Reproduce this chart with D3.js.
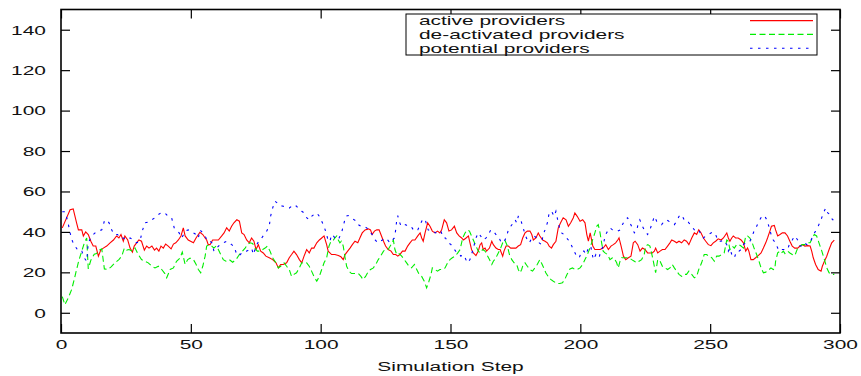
<!DOCTYPE html>
<html>
<head>
<meta charset="utf-8">
<script src="https://cdn.jsdelivr.net/npm/d3@7"></script>
<style>
  html, body { margin: 0; padding: 0; background: #fff; }
  svg { display: block; font-family: "Liberation Sans", Arial, Helvetica, sans-serif; }
</style>
</head>
<body>
<svg id="chart" width="861" height="376"></svg>
<script>
// Tick values
const xTicks = [0, 50, 100, 150, 200, 250, 300];
const yTicks = [0, 20, 40, 60, 80, 100, 120, 140];
const seriesNames = ["active providers", "de-activated providers", "potential providers"];

// [simulation step, number of providers]
const active = [
  [0.5,42],[3.5,51],[4.7,51.4],[6,44.5],[6.7,41],[8,41],[8.6,38],[9.5,40],[10.5,38.7],[11.5,35.4],[12.4,33],[13.4,33],[14.4,28],[15.3,31],[16.3,32],[17.6,33],[18.9,34.6],[20.2,36],[21.4,38],[22.3,37],[23.1,38.7],[24,35.4],[24.6,38],[25.7,36],[26.6,32],[27.5,30],[28.2,33],[29.1,34.6],[30,36],[31,35.4],[32.1,31],[33,33],[33.9,32],[35,33],[36,31],[36.8,32],[37.7,30.5],[38.5,33],[39.4,32],[40.3,34],[41.3,33],[42.4,31.6],[43.3,34],[44.2,34.6],[45.2,36],[46.2,38],[47.1,42],[47.8,38],[49,36],
  [51,34.6],[52,37],[52.9,38.7],[53.5,39.8],[54.6,38.7],[55.5,37],[56.1,36],[56.7,33.7],[57.4,33.7],[58.4,36],[59.3,36],[60.6,36],[61.9,38],[62.8,39.5],[63.8,42],[64.8,40.4],[65.7,42.8],[66.6,44.5],[67.7,46],[68.7,45.3],[69.6,39.5],[70.5,38.7],[71.5,36],[72.5,34.6],[73.4,37],[74.3,35.4],[75.1,31.3],[76,33.7],[76.9,30.5],[77.9,29.6],[78.9,28],[80.2,27.2],[81.5,26.3],[82.8,24.7],[83.7,22.2],[84.6,23.9],[85.6,23.9],[86.9,24.7],[87.9,27.2],[88.8,28.8],[89.7,30.5],[90.7,28.8],[91.8,26.3],[92.7,24.7],[93.6,28],[94.6,31.3],[95.6,29.6],[96.5,32],[97.4,32],[98.5,34.6],[99.5,36],[100.4,37],[101.3,38],
  [102.3,33.7],[102.9,30.5],[104.2,28.8],[105.5,28.8],[106.8,28.3],[107.8,27.7],[108.7,26.3],[109.4,28.8],[110.4,30.5],[111.3,32],[112.2,33.7],[113.2,35.4],[114.3,34.6],[115.1,37],[116,39.5],[117.1,41],[118.4,41.5],[119.2,41],[119.8,38.7],[120.7,40.4],[121.6,41],[122.5,41],[123.2,38.7],[124.2,35.4],[125,33],[126,31.3],[127.1,30.5],[128,28.8],[128.9,28.8],[129.7,28],[130.5,28.8],[131.5,30.5],[132.5,30.5],[133.5,33],[134.4,34.6],[135.3,36],[136.3,36],[137.4,38],[138.3,39.5],[138.9,37],[139.5,35.4],[140.2,39.5],[141.2,44.5],[142.1,42.8],[143,40.4],[144,39.5],[145,40.4],[145.9,39.5],[146.6,41],[147.6,46],[148.5,44.5],[149.4,40.4],[150.4,41],[151.5,42.8],[152.4,39.5],[153.3,38],
  [154.3,37],[155,36],[156,37],[156.9,38],[157.5,34.6],[158.1,31.3],[158.8,29.6],[159.8,28.3],[160.7,30.5],[161.4,33.7],[162,34.6],[162.6,31.3],[163.3,32],[163.9,30.5],[165,32],[165.9,35.4],[166.5,33.7],[167.5,32],[168.4,31.3],[169.1,31.3],[170.1,28],[170.6,30.5],[171.4,33],[172.3,33],[173.2,32],[174.2,32],[175.2,32],[176.1,33],[177,33.7],[177.8,37],[178.7,39.5],[179.6,40.4],[180.6,40.4],[181.3,38.7],[181.9,36],[182.9,37],[183.8,39.5],[184.4,38],[185.5,36],[186.4,35.4],[187.3,34.6],[188,33],[188.9,32],[189.6,33.7],[190.6,35.4],[191.5,42],[192.4,44.5],[193.4,47],[194.5,46],[195.4,42.8],[196.3,44.5],[197.3,47],[197.9,49.4],[198.8,47.7],[199.9,45.3],[200.9,46],[201.8,44.5],[202.5,38.7],[203.1,35.4],[203.8,39.5],[204.8,33],[205.6,31.3],
  [206.3,31.3],[207.6,31.3],[208.8,32],[209.8,33.7],[210.8,31.3],[211.8,33],[212.7,33.7],[213.6,34.6],[214.4,36],[214.9,37],[215.7,33],[216.6,28],[217.5,26.3],[218.5,27.2],[219.5,28],[220.4,34.6],[221.1,35.4],[222.1,33.7],[223,30.5],[223.9,32],[224.9,31.3],[225.9,29.6],[226.8,29.6],[227.7,29.6],[228.5,30.5],[229,32],[229.8,29.6],[230.7,30.5],[231.6,31.3],[232.6,31.3],[233.6,33],[234.5,34.6],[235.2,36],[236.2,35.4],[237.1,34.6],[238,35.4],[239,34.6],[240,36],[240.9,35.4],[241.8,33.7],[242.9,37],[243.9,39.5],[244.8,38.7],[245.6,41],[246.5,39.5],[247.4,37],[248.3,35.4],[249.3,33.7],[250.3,33.2],[251.2,34.6],[252.1,35.4],[253.1,36.6],[254.2,36],[255.1,37],
  [256.4,39.5],[257,37],[257.6,35.4],[258.3,37],[258.9,38],[259.8,37],[260.8,37],[261.9,36],[262.8,34.6],[263.7,30.5],[264.4,32],[264.9,30.5],[265.7,26.3],[266.6,26.3],[267.5,27.2],[268.5,28.3],[269.6,29.6],[270.5,32],[271.4,34.6],[272.1,37],[273,40.4],[273.6,42.8],[274.7,43.2],[275.2,41],[276,38],[276.9,38.7],[277.8,39.5],[278.8,39.5],[279.8,38],[280.7,35.4],[281.6,33],[282.6,32],[283.7,32],[284.6,33],[285.5,33.7],[286.5,33],[287.5,33.2],[288.5,33],[289.1,30.5],[289.7,27.2],[290.6,23.9],[291.6,21.4],[292.7,20.6],[293.2,23],[294,25.5],[294.9,28],[295.8,31.3],[296.8,34.6],[297.8,35.9]
];

const deactivated = [
  [0.5,8],[1.5,4],[2.8,7.4],[4.1,11.5],[5.1,16.5],[6,21.4],[6.9,26],[8,30.5],[9,34.6],[9.9,37],[10.5,21.7],[11.5,26],[12.8,29],[13.7,29.3],[14.6,31],[15.7,31.6],[16.7,21.7],[18,21.4],[19.3,22.7],[20.8,24.7],[22.3,26.3],[23.4,28],[24.4,32],[25.3,31],[26.2,31.3],[27.5,30.5],[28.5,32],[29.8,28.8],[31,26.3],[32.3,25.5],[33.6,24.7],[35,23],[36.2,22.2],[37.5,23],[38.8,21.4],[40,19.4],[40.7,17.3],[42,21.4],[43.3,22.2],[44.5,25.5],[45.8,27],[46.7,30],[47.8,23.9],[48.8,26.3],
  [49.7,27],[51,26.3],[52,24],[52.9,21.4],[53.8,19.8],[54.6,23],[55.5,28],[56.1,33],[57.1,33.7],[58,33],[58.9,32],[59.7,33],[60.6,31.3],[61.5,28.8],[62.5,26.3],[63.5,25.5],[64.8,26.3],[66.1,25],[67.4,26.3],[68.7,28.8],[69.9,30.5],[70.9,32],[71.8,33.7],[72.8,34.6],[73.8,34.3],[74.7,32],[75.6,30.5],[76.6,30.5],[77.7,31.3],[78.6,32],[79.5,33],[80.5,30.5],[81.5,27.2],[82.8,24.7],[83.7,22.2],[84.6,23],[85.9,24.7],[86.9,23],[87.9,21.4],[88.8,18],[89.7,19],[90.7,19.8],[91.8,22.2],[92.7,24.7],[93.6,24.7],[94.6,24.7],[95.6,23],[96.5,20.6],[97.4,18],[98.5,15.6],[99.5,18],[100.4,21.4],[101.3,24.7],
  [102.3,27.2],[103.2,33],[104,35.4],[104.9,36],[105.5,37],[106.2,38],[106.8,36],[107.4,34.6],[108,35.4],[108.7,33],[109.4,27.2],[110,23],[110.9,20.6],[111.9,19.4],[113.2,19.4],[114.5,19.4],[115.5,18],[116.3,16.5],[117.3,18],[118.4,20.6],[119.2,21.4],[120.3,22.2],[121.2,23.9],[122.2,26.3],[123.2,28.3],[124.2,30.5],[125,31.3],[126,31.3],[127.1,33.7],[128,36],[128.6,31.3],[129.3,28.8],[130.2,29.3],[131.2,28],[132.2,26.3],[133.1,24.7],[134,23],[135,22.2],[136.1,23.9],[137,21.4],[137.9,19],[138.9,18],[139.9,15.6],[140.8,12.3],[141.7,15.6],[142.5,19],[143,22.2],[144,21.4],[145,20.6],[145.9,21.4],[146.9,21.4],[147.9,22.2],[148.9,24.7],[149.8,26.3],[150.7,27.2],[151.8,28],[152.8,29.6],[153.7,31.3],
  [154.7,37],[155.6,39.5],[156.5,41],[157.3,40.4],[158.1,38],[159,35.4],[159.8,33],[160.7,30.5],[161.4,29.6],[162.4,31.3],[163.3,30.5],[164.2,28.3],[165,26.3],[165.9,23.9],[166.5,25.5],[167.5,27.2],[168.4,29.6],[169.1,31.3],[170.1,34.6],[170.9,36],[171.9,33],[172.7,28.8],[173.6,26.3],[174.5,24.7],[175.5,23.9],[176.1,21.4],[176.8,19.8],[177.4,21.4],[178,23.9],[178.7,24.7],[179.6,23],[180.6,21.4],[181.6,20.6],[182.5,22.2],[183.4,23.9],[184.4,26.3],[185,24.7],[185.9,22.2],[186.7,19.8],[187.6,18],[188.6,16.5],[189.6,15.6],[190.9,14.5],[192.1,14.5],[193.1,14.8],[194,16.5],[194.9,19],[196,21.7],[197,22.2],[197.9,21.4],[198.8,21.4],[199.9,22.2],[200.9,23.9],[201.8,26.3],[202.7,28.8],[203.7,32],[204.7,36],[205.6,39.5],[206.3,42.8],[206.9,43.6],[207.6,39.5],
  [208.2,34.6],[208.8,30.5],[209.5,29.6],[210.5,28.8],[211.4,26.3],[212.4,27.2],[213.3,26.3],[214,24.7],[214.6,22.2],[215.3,25.5],[215.9,27.2],[216.9,27.2],[217.9,27.2],[218.8,27.2],[219.8,26.3],[220.8,25.5],[221.7,24.7],[222.6,25.5],[223.6,26.3],[224.6,28.8],[225.2,33],[226,33.7],[226.8,33],[227.7,28],[228.5,23],[229,19.8],[229.8,26.3],[230.7,25.5],[231.6,23],[232.6,22.2],[233.6,21.4],[234.5,22.2],[235.4,23.9],[236.2,22.2],[237.1,20.6],[238,19],[239,18],[240,19],[240.9,19],[241.8,20.6],[242.9,19],[243.9,17.3],[244.8,18],[245.6,21.4],[246.7,24.7],[247.7,28.8],[248.6,28.8],[249.5,28],[250.6,27.2],[251.6,25.5],[252.5,28],[253.4,28],[254.4,28.8],[255.4,29.6],
  [256.4,36],[257,35.4],[257.6,31.3],[258.5,33],[259.3,32],[260.2,33.7],[261.1,33.7],[261.9,33],[262.8,32],[263.7,38],[264.4,38],[265.3,37],[266.2,34.6],[266.9,32],[267.9,28.8],[268.8,25.5],[269.6,22.2],[270.5,19.8],[271.4,20.1],[272.4,21],[273.4,22.2],[274.3,21.4],[274.9,21.7],[275.2,25.5],[276,29.6],[276.9,30.5],[277.5,29.6],[278.2,30.5],[278.8,29.3],[279.8,30.5],[280.7,29.6],[281.6,28.8],[282.6,28.3],[283.7,32],[284.6,33],[285.5,33.7],[286.5,33.7],[287.5,34.6],[288.5,34.6],[289.3,37],[290.1,38.7],[291,38],[291.9,34.6],[293,30.5],[294,26.3],[294.9,22.2],[295.8,19.8],[296.8,19],[297.8,19]
];

const potential = [
  [0.5,50],[1.5,50],[2.6,45.3],[3.5,39.5],[4.4,35.4],[5.4,33],[6.7,30.5],[8,30.5],[9,27],[9.9,25.5],[10.5,34.6],[11.8,38],[13.1,39.5],[14.4,40.4],[15.7,41],[16.7,45.3],[17.6,46],[18.5,44.5],[19.5,41],[20.5,38.7],[21.8,38.7],[22.7,37],[24,37],[25.3,36],[26.6,37],[27.9,36],[29.1,34.6],[30.4,35.4],[31.3,40.4],[32.3,44.5],[33.6,44.8],[35,46],[36.2,47],[37.5,48.6],[38.8,49.7],[40,49.4],[41.3,47.7],[42.6,47],[43.6,42],[44.5,41],[45.5,39.5],[46.5,37],[47.8,40.4],[49,41],
  [51,39.5],[52,38.7],[52.9,37],[53.5,41],[54.6,39.5],[55.5,38],[56.4,35.4],[57.4,35.4],[58.1,34.6],[58.9,30.5],[59.9,32],[61.2,33.7],[62.5,34.6],[63.8,35.4],[64.8,34.6],[65.7,33.7],[66.6,33],[67.7,28.8],[68.7,28.3],[69.6,29.6],[70.5,30.5],[71.5,30.5],[72.5,31.3],[73.4,32],[74.1,28.8],[74.7,31.3],[75.4,33.7],[76.4,36],[77.3,37],[78.2,38.7],[79.2,40.4],[80.2,42.8],[80.7,47.7],[81.5,51.8],[82.4,55.2],[83.3,54.3],[84.3,53],[85.6,52.7],[86.9,52.4],[87.9,51.8],[88.8,52.7],[89.7,53.5],[90.7,52.7],[91.8,51],[92.7,50.2],[93.6,49.4],[94.6,47],[95.6,46],[96.5,47.7],[97.4,48.6],[98.5,49.4],[99.5,47.7],[100.4,45.3],[101.3,42.8],
  [102.3,38.7],[102.9,35.4],[103.6,35.4],[104.2,38.7],[104.9,38],[105.5,37],[106.2,36],[107.1,37],[108,39.5],[108.7,42.8],[109.6,47.7],[110.6,48.1],[111.7,47],[112.9,46],[113.9,45.3],[114.5,43.6],[115.5,42.8],[116.8,42.8],[117.7,42],[118.6,41],[119.3,39.5],[120.3,38],[121,36],[122,34.6],[122.9,35.4],[123.8,36],[124.8,37],[125.8,36],[126.7,34.6],[127.6,36],[128.4,37],[128.9,41],[129.3,46],[129.7,48],[130.2,45.3],[131,42.8],[131.8,42.8],[132.7,43.6],[133.8,42.8],[134.8,42.8],[135.7,41],[136.6,40.4],[137.4,41],[138.3,43.6],[139.2,46],[140.2,46.4],[140.8,43.6],[141.4,41],[142.5,40.4],[143.4,40.4],[144.3,39.5],[145.3,40.4],[146.3,40.4],[147.2,37],[148.1,37],[149.2,34.6],[150.2,33.7],[151.1,32],[152,30.5],[153,29.6],
  [154,28],[154.7,28.8],[155.6,27.2],[156.5,24.7],[157.5,26.3],[158.1,28.8],[159,33],[159.8,37],[160.7,39.5],[161.6,38],[162.6,36],[163.7,37],[164.6,38.7],[165.5,41],[166.5,40.4],[167.5,38.7],[168.4,38],[169.3,35.4],[170.3,34.6],[171.4,37],[172.3,41],[173.2,42.8],[174.2,44.5],[174.9,46],[175.5,44.5],[176.1,47.7],[176.8,47],[177.4,44.5],[178,42],[178.7,38.7],[179.6,36],[180.4,34.6],[181.3,37],[182.2,38],[183.2,37],[184.2,34.6],[185,33.7],[185.7,38.7],[186.4,41],[187.3,44.5],[188,49.4],[188.9,50.2],[189.9,47.7],[190.6,50.2],[191.5,44.5],[192.2,41],[192.8,39.5],[193.7,38.7],[194.7,37],[195.8,35.4],[196.7,33],[197.6,30.5],[198.6,28],[199.6,27.2],[200.5,30.5],[201.4,30.5],[202.2,28.8],[203.1,32],[204,33],[205,26.3],[206,28.8],
  [207.2,27.2],[207.9,30.5],[208.8,33],[209.5,38],[210.1,39.5],[210.8,41],[211.4,42],[212.4,41],[213.3,40.4],[214.4,40.4],[215.3,41],[216.2,43.6],[217.2,46],[218.2,47],[219.1,44.5],[220,42],[220.8,39.5],[221.7,40.4],[222.3,44.5],[222.9,46],[223.9,42.8],[224.9,40.4],[225.9,38.7],[226.8,41],[227.7,44.5],[228.5,47.7],[229.4,45.3],[230.3,44.5],[231.3,43.6],[232.3,45.3],[233.2,46],[234.1,45.3],[235.2,44.5],[236.2,43.6],[237.1,45.3],[238,47.7],[239,48.6],[240,46],[240.9,46],[241.8,44.5],[242.9,42.8],[243.9,41],[244.8,40.4],[245.6,41],[246.5,38.7],[247.4,37],[248.3,38],[249.3,38.7],[250.3,39.5],[251.2,39.9],[252.1,38.7],[253.1,35.4],[254.2,35.4],[255.1,36],
  [256.4,33.7],[257,30.5],[257.6,32],[258.5,28],[259.3,27.2],[260.2,30.5],[261.1,30.5],[261.9,31.3],[262.8,33.7],[263.7,34.6],[264.4,35.4],[265.3,35.4],[266.2,38],[266.9,40.4],[267.9,42.8],[268.8,45.3],[269.9,47.7],[270.9,48.1],[271.8,46],[272.4,43.6],[273,41],[273.6,38],[274.3,36],[275.2,34.6],[276,32],[276.9,30.5],[277.8,31.3],[278.8,31.3],[279.8,31.3],[280.7,34.6],[281.6,36],[282.6,38],[283.7,36],[284.6,33],[285.5,33],[286.3,34.6],[287.2,33.7],[288.1,35.4],[288.9,36],[289.8,38.7],[290.6,40.4],[291.6,42.8],[292.7,46],[293.6,49.4],[294.5,51.8],[295.3,49.4],[296.2,48.6],[297.1,46],[297.8,46]
];

const seriesData = [active, deactivated, potential];
const seriesColors = ["#ff0000", "#00ee00", "#0000ff"];
const seriesDash = [null, "6,3.5", "2.5,5.5"];

// Layout
const plot = { left: 61, right: 840, top: 9.5, bottom: 333 };
const SX = 1.55;         // horizontal stretch of the lettering
const FS = 13.5;         // font size in px
const LEGEND_FS = 12.3;  // legend rows are packed tightly
const LEGEND_SX = 1.7;
const TICK = 9;          // inward tick length

const svg = d3.select("#chart");

const x = d3.scaleLinear().domain([0, 300]).range([plot.left, plot.right]);
const y = d3.scaleLinear().domain([-10, 150]).range([plot.bottom, plot.top]);

// Re-anchors a text element so it can be stretched horizontally around its own position
function stretchText(sel, sx = SX) {
  sel.each(function () {
    const t = d3.select(this);
    const tx = +t.attr("x") || 0;
    const ty = +t.attr("y") || 0;
    t.attr("x", 0).attr("y", 0)
     .attr("transform", `translate(${tx},${ty}) scale(${sx},1)`);
  });
}

function styleAxis(g) {
  g.attr("font-size", FS).attr("font-family", null);
  g.select(".domain").remove();
  g.selectAll(".tick line").attr("stroke", "#000").attr("stroke-width", 1.2);
  g.selectAll(".tick text").attr("fill", "#111");
}

// Data lines (drawn under the frame)
const line = d3.line().x(d => x(d[0])).y(d => y(d[1]));
svg.append("g").selectAll("path")
  .data(seriesData)
  .join("path")
  .attr("d", line)
  .attr("fill", "none")
  .attr("stroke", (d, i) => seriesColors[i])
  .attr("stroke-width", 1.1)
  .attr("stroke-dasharray", (d, i) => seriesDash[i]);

// Axes: ticks on all four sides, pointing inward
const gLeft = svg.append("g").attr("transform", `translate(${plot.left},0)`)
  .call(d3.axisLeft(y).tickValues(yTicks).tickSizeInner(-TICK).tickSizeOuter(0).tickPadding(15));
styleAxis(gLeft);
stretchText(gLeft.selectAll(".tick text"));

const gRight = svg.append("g").attr("transform", `translate(${plot.right},0)`)
  .call(d3.axisRight(y).tickValues(yTicks).tickSizeInner(-TICK).tickSizeOuter(0).tickFormat(""));
styleAxis(gRight);

const gBottom = svg.append("g").attr("transform", `translate(0,${plot.bottom})`)
  .call(d3.axisBottom(x).tickValues(xTicks).tickSizeInner(-TICK).tickSizeOuter(0).tickPadding(6));
styleAxis(gBottom);
stretchText(gBottom.selectAll(".tick text"));

const gTop = svg.append("g").attr("transform", `translate(0,${plot.top})`)
  .call(d3.axisTop(x).tickValues(xTicks).tickSizeInner(-TICK).tickSizeOuter(0).tickFormat(""));
styleAxis(gTop);

// Plot frame
svg.append("rect")
  .attr("x", plot.left).attr("y", plot.top)
  .attr("width", plot.right - plot.left).attr("height", plot.bottom - plot.top)
  .attr("fill", "none").attr("stroke", "#000").attr("stroke-width", 1.6);

// X axis title
svg.append("text")
  .attr("x", (plot.left + plot.right) / 2).attr("y", 371)
  .attr("text-anchor", "middle").attr("font-size", FS).attr("fill", "#111")
  .text("Simulation Step")
  .call(stretchText);

// Legend
const legend = svg.append("g");
legend.append("rect")
  .attr("x", 406).attr("y", 14).attr("width", 411).attr("height", 41)
  .attr("fill", "#fff").attr("stroke", "#000").attr("stroke-width", 1);
const rowY = [20.6, 34.4, 48.2];
const rows = legend.selectAll("g.row").data(seriesNames).join("g").attr("class", "row");
rows.append("text")
  .attr("x", 419).attr("y", (d, i) => rowY[i]).attr("dy", "0.36em")
  .attr("font-size", LEGEND_FS).attr("fill", "#111")
  .text(d => d)
  .call(stretchText, LEGEND_SX);
rows.append("line")
  .attr("x1", 750).attr("x2", 813)
  .attr("y1", (d, i) => rowY[i]).attr("y2", (d, i) => rowY[i])
  .attr("stroke", (d, i) => seriesColors[i])
  .attr("stroke-width", 1.1)
  .attr("stroke-dasharray", (d, i) => seriesDash[i]);
</script>
</body>
</html>
